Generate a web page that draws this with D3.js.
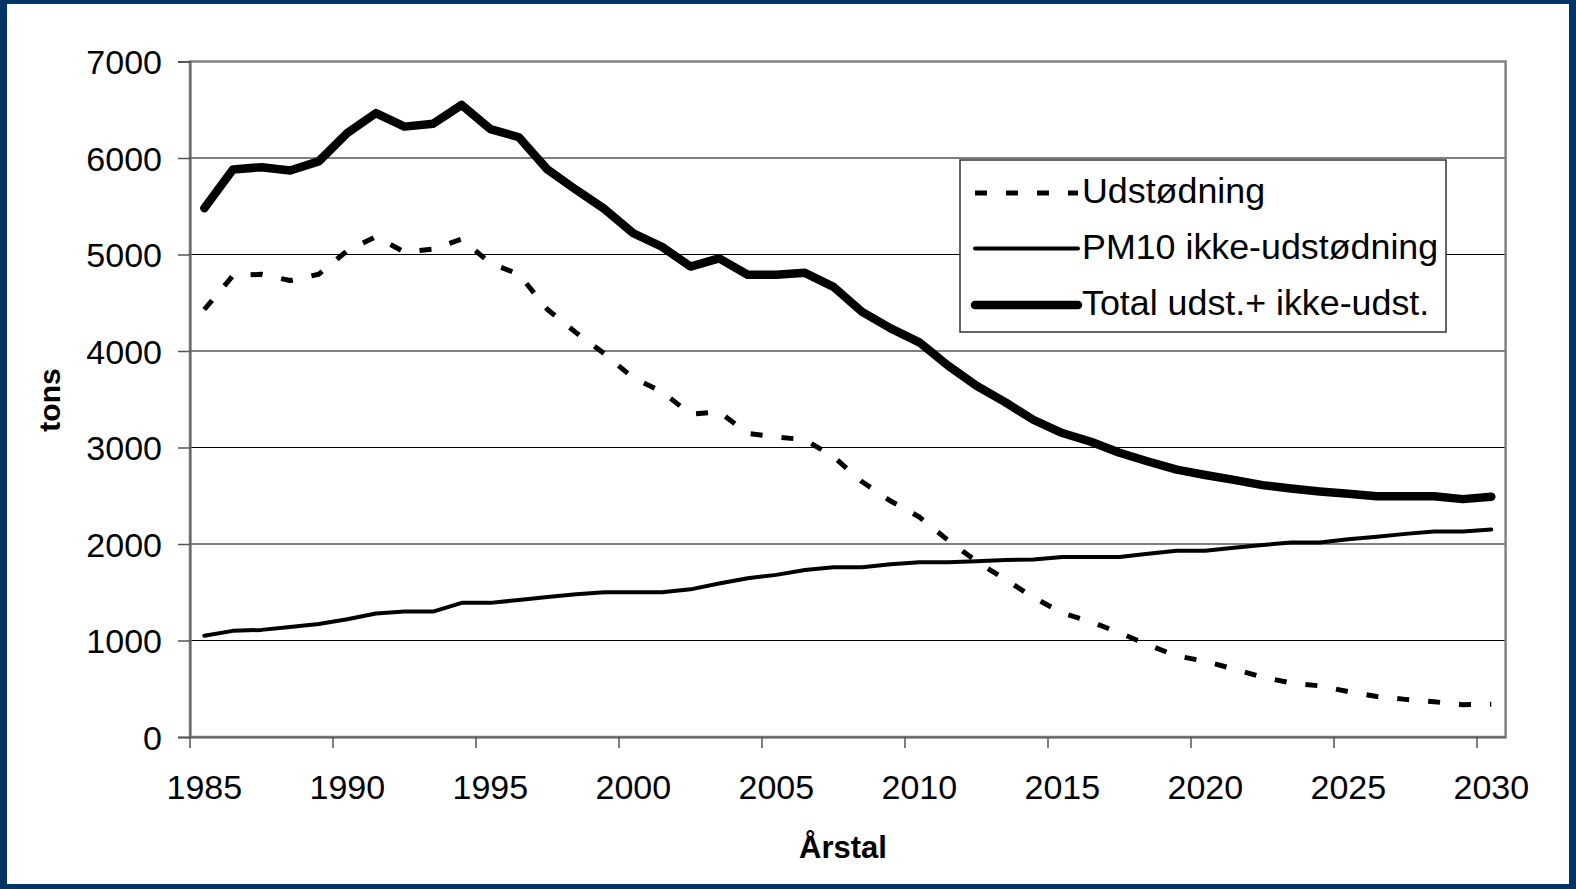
<!DOCTYPE html>
<html lang="da">
<head>
<meta charset="UTF-8"/>
<title>PM10 – udstødning og ikke-udstødning</title>
<script src="https://d3js.org/d3.v7.min.js"></script>
<style>
    body { margin: 0; background: #003366; }
    text { font-family: "Liberation Sans", Arial, sans-serif; fill: #000; }
</style>
</head>
<body>
<div id="chart"></div>
<script>
// categories (years)
const years = [1985, 1986, 1987, 1988, 1989, 1990, 1991, 1992, 1993, 1994,
    1995, 1996, 1997, 1998, 1999, 2000, 2001, 2002, 2003, 2004,
    2005, 2006, 2007, 2008, 2009, 2010, 2011, 2012, 2013, 2014,
    2015, 2016, 2017, 2018, 2019, 2020, 2021, 2022, 2023, 2024,
    2025, 2026, 2027, 2028, 2029, 2030];

// series values, tons
const udstodning = [4430, 4780, 4795, 4730, 4795, 5040, 5185, 5025, 5055, 5160,
    4910, 4795, 4430, 4190, 3970, 3720, 3580, 3345, 3370, 3145,
    3110, 3080, 2905, 2645, 2445, 2280, 2040, 1820, 1635, 1445,
    1285, 1195, 1080, 955, 840, 785, 705, 620, 560, 530,
    470, 420, 390, 365, 335, 340];
const ikkeUdstodning = [1050, 1100, 1110, 1140, 1170, 1220, 1280, 1300, 1300, 1390,
    1390, 1420, 1450, 1480, 1500, 1500, 1500, 1530, 1590, 1645,
    1680, 1730, 1760, 1760, 1790, 1810, 1810, 1820, 1835, 1840,
    1865, 1865, 1865, 1900, 1930, 1930, 1960, 1990, 2015, 2015,
    2050, 2075, 2105, 2130, 2130, 2150];
const total = [5480, 5880, 5905, 5870, 5965, 6260, 6465, 6325, 6355, 6550,
    6300, 6215, 5880, 5670, 5470, 5220, 5080, 4875, 4960, 4790,
    4790, 4810, 4665, 4405, 4235, 4090, 3850, 3640, 3470, 3285,
    3150, 3060, 2945, 2855, 2770, 2715, 2665, 2610, 2575, 2545,
    2520, 2495, 2495, 2495, 2465, 2490];

// tick labels
const yTicks = [0, 1000, 2000, 3000, 4000, 5000, 6000, 7000];
const xTickYears = [1985, 1990, 1995, 2000, 2005, 2010, 2015, 2020, 2025, 2030];

const seriesNames = ["Udstødning", "PM10 ikke-udstødning", "Total udst.+ ikke-udst."];

const W = 1576, H = 889;
const plot = {left: 190, right: 1505.6, top: 61.5, bottom: 737};

const svg = d3.select("#chart").append("svg")
    .attr("width", W).attr("height", H)
    .style("display", "block");

// blue frame + white card
svg.append("rect").attr("width", W).attr("height", H).attr("fill", "#003366");
svg.append("rect").attr("x", 7).attr("y", 4).attr("width", 1562).attr("height", 880)
    .attr("fill", "#fff");

// scales
const x = d3.scaleBand().domain(years).range([plot.left, plot.right]);
const xc = d => x(d) + x.bandwidth() / 2;
const y = d3.scaleLinear().domain([0, 7000]).range([plot.bottom, plot.top]);

// gridlines
svg.append("g")
    .selectAll("line")
    .data(yTicks.filter(v => v > 0 && v < 7000))
    .join("line")
    .attr("x1", plot.left).attr("x2", plot.right)
    .attr("y1", d => y(d)).attr("y2", d => y(d))
    .attr("stroke", "#000").attr("stroke-width", 1.2);

// plot area border
svg.append("rect")
    .attr("x", plot.left).attr("y", plot.top)
    .attr("width", plot.right - plot.left).attr("height", plot.bottom - plot.top)
    .attr("fill", "none").attr("stroke", "#808080").attr("stroke-width", 2.5);

// Y axis
const yAxis = svg.append("g")
    .attr("transform", "translate(" + plot.left + ",0)")
    .call(d3.axisLeft(y).tickValues(yTicks).tickSize(12).tickPadding(16).tickFormat(d3.format("d")));
yAxis.select(".domain").attr("stroke", "#666").attr("stroke-width", 2);
yAxis.selectAll(".tick line").attr("stroke", "#555").attr("stroke-width", 1.5);
yAxis.selectAll(".tick text").style("font-size", "34px").attr("dy", "0.36em");

// X axis: tick marks at category boundaries, labels at category centres
const xAxis = svg.append("g")
    .attr("transform", "translate(0," + plot.bottom + ")")
    .call(d3.axisBottom(x).tickValues(xTickYears).tickSize(0).tickPadding(38));
xAxis.select(".domain").attr("stroke", "#666").attr("stroke-width", 2);
xAxis.selectAll(".tick text").style("font-size", "34px");
xAxis.selectAll(".tick")
    .append("line")
    .attr("x1", -x.bandwidth() / 2).attr("x2", -x.bandwidth() / 2)
    .attr("y1", 0).attr("y2", 11)
    .attr("stroke", "#555").attr("stroke-width", 1.5);

// axis titles
svg.append("text")
    .attr("transform", "translate(60,400) rotate(-90)")
    .attr("text-anchor", "middle")
    .style("font-size", "30px").style("font-weight", "bold")
    .text("tons");
svg.append("text")
    .attr("x", 843).attr("y", 858)
    .attr("text-anchor", "middle")
    .style("font-size", "31px").style("font-weight", "bold")
    .text("Årstal");

// lines
const styles = [
    {data: udstodning, width: 5, dash: "12,19", cap: "butt"},
    {data: ikkeUdstodning, width: 4, dash: null, cap: "round"},
    {data: total, width: 8.5, dash: null, cap: "round"}
];
const line = d3.line().x((d, i) => xc(years[i])).y(d => y(d));

styles.forEach(function(s) {
    svg.append("path")
        .datum(s.data)
        .attr("fill", "none")
        .attr("stroke", "#000")
        .attr("stroke-width", s.width)
        .attr("stroke-linejoin", "round")
        .attr("stroke-linecap", s.cap)
        .attr("stroke-dasharray", s.dash)
        .attr("d", line);
});

// legend
const legend = svg.append("g");
legend.append("rect")
    .attr("x", 960).attr("y", 160).attr("width", 486).attr("height", 172)
    .attr("fill", "#fff").attr("stroke", "#333").attr("stroke-width", 1.5);
const rowY = [193, 248.5, 305];
seriesNames.forEach(function(name, i) {
    legend.append("line")
        .attr("x1", 975).attr("x2", 1078)
        .attr("y1", rowY[i]).attr("y2", rowY[i])
        .attr("stroke", "#000")
        .attr("stroke-width", styles[i].width)
        .attr("stroke-linecap", styles[i].cap)
        .attr("stroke-dasharray", styles[i].dash);
    legend.append("text")
        .attr("x", 1082).attr("y", rowY[i] + 10)
        .style("font-size", "35.8px")
        .text(name);
});
</script>
</body>
</html>
